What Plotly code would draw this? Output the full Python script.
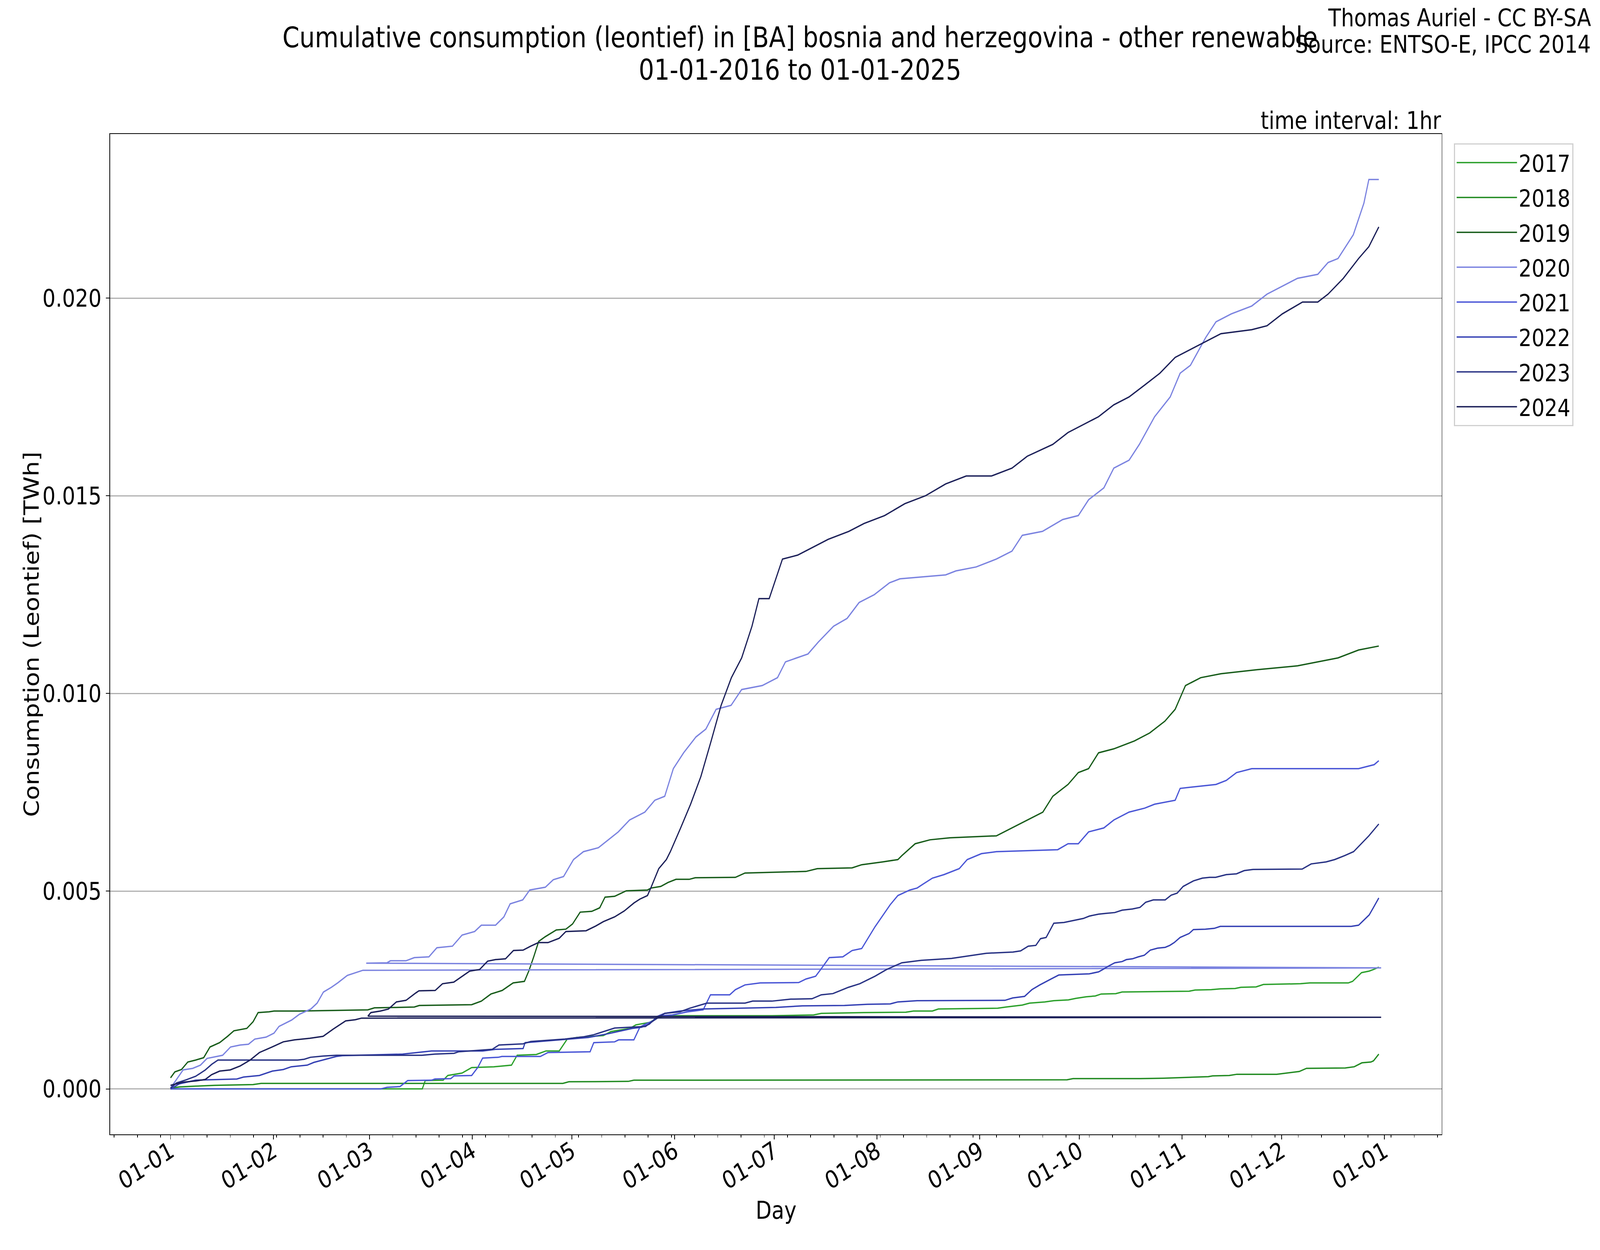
import pandas as pd
import plotly.graph_objects as go

# ---------------- data (day offset from 01-01, cumulative TWh) ----------------
years = ["2017", "2018", "2019", "2020", "2021", "2022", "2023", "2024"]
colors = ["#2ca02c", "#228b22", "#175c1a", "#7b83e0", "#4a56d6", "#3440b4", "#283284", "#1b1f58"]

s2017 = [(0, 0), (75.9, 0), (76.8, 0.00021), (82.2, 0.00022), (83.6, 0.00034), (87.9, 0.0004), (90.8, 0.00054),
         (97.5, 0.00056), (102.8, 0.0006), (104.5, 0.00085), (110.3, 0.00087), (113.2, 0.00096), (117.2, 0.00096),
         (119.6, 0.00126), (122.5, 0.0013), (130.5, 0.00135), (132.8, 0.00145), (138.5, 0.00153), (140.3, 0.00162),
         (144.4, 0.00168), (146.7, 0.00179), (149, 0.00185), (181.3, 0.00185), (193.9, 0.00187), (196.2, 0.00191),
         (209, 0.00193), (221.7, 0.00194), (224, 0.00197), (229.7, 0.00197), (231.5, 0.00202), (249.4, 0.00204),
         (251.9, 0.00207), (256.8, 0.00212), (259, 0.00217), (263.6, 0.0022), (266.3, 0.00223), (270.7, 0.00225),
         (273, 0.00229), (276.1, 0.00233), (278.8, 0.00235), (280.6, 0.0024), (285, 0.00241), (286.9, 0.00245),
         (303, 0.00246), (307.1, 0.00247), (308.9, 0.0025), (313.8, 0.00251), (316.5, 0.00253), (321, 0.00254),
         (322.7, 0.00257), (327.3, 0.00258), (329.5, 0.00264), (340.7, 0.00266), (343.5, 0.00268), (355.1, 0.00268),
         (356.4, 0.00272), (359.1, 0.00294), (361.4, 0.00298), (362.7, 0.00302), (364.3, 0.00308)]

s2018 = [(0, 0.00002), (2.7, 0.00005), (7.6, 0.00007), (13.3, 0.00009), (24.9, 0.00011), (27.3, 0.00014),
         (118.3, 0.00014), (120.1, 0.00018), (138, 0.00019), (139.7, 0.00022), (270.3, 0.00023), (272.1, 0.00026),
         (292.3, 0.00026), (299.4, 0.00027), (312.9, 0.00031), (314.2, 0.00033), (319.2, 0.00034), (321.5, 0.00037),
         (333.5, 0.00037), (336.2, 0.0004), (340.3, 0.00044), (342.5, 0.00052), (354.2, 0.00053), (356.9, 0.00056),
         (359.2, 0.00066), (361.9, 0.00068), (362.7, 0.00071), (364.3, 0.00088)]

s2019 = [(0, 0.00028), (1.3, 0.00043), (3.3, 0.00049), (5.2, 0.00068), (7.6, 0.00073), (10, 0.00079), (11.9, 0.00106),
         (14.8, 0.00117), (17.2, 0.00133), (19.1, 0.00147), (23, 0.00153), (24.9, 0.0017), (26.4, 0.00193),
         (29.7, 0.00195), (31.2, 0.00197), (38.8, 0.00197), (59.5, 0.002), (61.5, 0.00205), (73.5, 0.00207),
         (75, 0.00211), (90.8, 0.00213), (93.7, 0.00222), (96.6, 0.0024), (100, 0.00249), (103.3, 0.00268),
         (106.7, 0.00272), (108.1, 0.003), (109.5, 0.00334), (111, 0.00373), (113, 0.00385), (116.3, 0.00402),
         (119.2, 0.00404), (121.2, 0.00417), (123.5, 0.00447), (127, 0.00449), (129.4, 0.00458), (131, 0.00485),
         (133.9, 0.00487), (137.4, 0.00501), (143.8, 0.00503), (144.9, 0.00508), (147.8, 0.00512), (150, 0.00522),
         (152.4, 0.0053), (156.4, 0.0053), (158.2, 0.00534), (170.3, 0.00535), (173.2, 0.00546), (191.6, 0.0055),
         (195, 0.00557), (205.5, 0.00559), (208.4, 0.00567), (214.7, 0.00574), (219.3, 0.0058), (220.5, 0.0059),
         (224.5, 0.0062), (229, 0.0063), (235, 0.00635), (249, 0.0064), (253.7, 0.0066), (258.3, 0.0068),
         (263, 0.007), (266, 0.0074), (270.6, 0.0077), (273.7, 0.008), (276.8, 0.0081), (279.8, 0.0085),
         (284.4, 0.0086), (290.6, 0.0088), (295.2, 0.009), (299.8, 0.0093), (302.9, 0.0096), (306, 0.0102),
         (310.6, 0.0104), (316.7, 0.0105), (327.5, 0.0106), (339.8, 0.0107), (345.9, 0.0108), (352, 0.0109),
         (358.2, 0.0111), (364.3, 0.0112)]

s2020 = [(0, 0.00002), (1.8, 0.00024), (3.8, 0.00048), (6.7, 0.00052), (9, 0.0006), (11, 0.00077), (13.3, 0.00081),
         (15.7, 0.00085), (18.1, 0.00106), (21, 0.00111), (23.5, 0.00113), (25.4, 0.00126), (28.8, 0.00131),
         (31.2, 0.00141), (32.7, 0.00158), (36.5, 0.00174), (38.9, 0.00189), (42.3, 0.00202), (44.2, 0.00217),
         (46.1, 0.00245), (48.5, 0.00257), (50.4, 0.00268), (53.3, 0.00287), (55.7, 0.00294), (58, 0.003),
         (365, 0.00306), (59, 0.00318), (65.3, 0.00319), (66.3, 0.00324), (71, 0.00324), (73.5, 0.00332),
         (77.9, 0.00334), (80.3, 0.00357), (85, 0.00361), (87.9, 0.00389), (91.7, 0.00398), (93.7, 0.00414),
         (98, 0.00414), (100.5, 0.00435), (102.4, 0.00468), (106.2, 0.00478), (108.3, 0.00503), (113, 0.0051),
         (115.4, 0.00529), (118.5, 0.00537), (121.5, 0.0058), (124.5, 0.006), (129, 0.0061), (132, 0.0063),
         (135, 0.0065), (138.4, 0.0068), (143, 0.007), (146, 0.0073), (149, 0.0074), (151.6, 0.0081),
         (154.7, 0.0085), (158.4, 0.0089), (161.4, 0.0091), (164.5, 0.0096), (169, 0.0097), (172.2, 0.0101),
         (178.4, 0.0102), (183, 0.0104), (185.4, 0.0108), (192.2, 0.011), (195.3, 0.0113), (199.9, 0.0117),
         (204, 0.0119), (207.6, 0.0123), (212.2, 0.0125), (216.8, 0.0128), (219.9, 0.0129), (233.7, 0.013),
         (236.8, 0.0131), (242.9, 0.0132), (249, 0.0134), (253.7, 0.0136), (256.8, 0.014), (262.9, 0.0141),
         (269, 0.0144), (273.7, 0.0145), (276.8, 0.0149), (281.4, 0.0152), (284.4, 0.0157), (289, 0.0159),
         (292.1, 0.0163), (296.7, 0.017), (301.4, 0.0175), (304.4, 0.0181), (307.5, 0.0183), (312.1, 0.019),
         (315.2, 0.0194), (319.8, 0.0196), (326, 0.0198), (330.6, 0.0201), (335.2, 0.0203), (339.8, 0.0205),
         (345.9, 0.0206), (349, 0.0209), (352, 0.021), (356.6, 0.0216), (359.8, 0.0224), (361.3, 0.023),
         (364.3, 0.023)]

s2021 = [(0, 0), (63.4, 0), (65.3, 0.00004), (69.2, 0.00006), (71.5, 0.00021), (78.7, 0.00022), (79.7, 0.00025),
         (84.5, 0.00026), (85.5, 0.00033), (90.8, 0.00034), (92.7, 0.00055), (94.1, 0.00078), (98.9, 0.0008),
         (99.9, 0.00082), (111.5, 0.00082), (113.8, 0.00092), (126.5, 0.00094), (127.6, 0.00117), (133.9, 0.00119),
         (135.1, 0.00124), (139.7, 0.00124), (141.5, 0.00156), (143.2, 0.00164), (145.5, 0.00172), (147.8, 0.00185),
         (151.3, 0.00187), (155.9, 0.00195), (160.6, 0.002), (162.8, 0.00238), (168.6, 0.00238), (170.3, 0.00251),
         (173.2, 0.00263), (177.8, 0.00268), (189.4, 0.00269), (191.6, 0.00278), (194.5, 0.00285), (196.2, 0.00304),
         (198.6, 0.00332), (202.7, 0.00334), (205.5, 0.0035), (208.4, 0.00355), (212.4, 0.0041), (217, 0.00466),
         (219.3, 0.00489), (222.9, 0.00503), (225.1, 0.00508), (226.9, 0.00518), (229.7, 0.00533), (233.2, 0.00542),
         (237.8, 0.00557), (240.2, 0.0058), (244.5, 0.00595), (249, 0.006), (267.5, 0.00605), (270.6, 0.0062),
         (273.7, 0.0062), (276.8, 0.0065), (281.4, 0.0066), (284.4, 0.0068), (289, 0.007), (293.7, 0.0071),
         (296.7, 0.0072), (302.9, 0.0073), (304.4, 0.0076), (315.2, 0.0077), (318.3, 0.0078), (321.4, 0.008),
         (326, 0.0081), (358.2, 0.0081), (362.9, 0.0082), (364.3, 0.0083)]

s2022 = [(0, 0), (2.7, 0.00013), (7.6, 0.00022), (20, 0.00025), (22, 0.0003), (26.8, 0.00034), (30.7, 0.00045),
         (34, 0.00049), (36.4, 0.00056), (41.2, 0.0006), (43.2, 0.00067), (46, 0.00073), (50, 0.00082),
         (51.8, 0.00084), (70, 0.00088), (78.7, 0.00096), (94.1, 0.00096), (98, 0.001), (106.3, 0.00102),
         (106.9, 0.00117), (117.8, 0.00124), (125.9, 0.0013), (132.2, 0.0014), (139.2, 0.00153), (142, 0.00156),
         (144.4, 0.00164), (146.7, 0.00183), (149, 0.00191), (153.6, 0.00197), (160.5, 0.00202), (182.5, 0.00206),
         (190.5, 0.0021), (203.2, 0.00211), (210.1, 0.00214), (217, 0.00215), (219.3, 0.0022), (225.1, 0.00223),
         (251.6, 0.00224), (253.9, 0.0023), (257.5, 0.00234), (259.7, 0.00251), (262.1, 0.00263), (265.5, 0.00278),
         (267.8, 0.00288), (277, 0.00291), (279.8, 0.00296), (281.1, 0.00302), (282.9, 0.00311), (284.7, 0.00319),
         (286.9, 0.00322), (288.2, 0.00327), (290, 0.00329), (291.8, 0.00334), (293.6, 0.00338), (295.4, 0.00351),
         (297.6, 0.00356), (299.9, 0.00358), (301.3, 0.00363), (302.6, 0.0037), (304.4, 0.00383), (307.1, 0.00393),
         (308.4, 0.00403), (312, 0.00404), (314.7, 0.00406), (316.5, 0.00411), (356, 0.00411), (358.2, 0.00414),
         (360, 0.00429), (361.4, 0.0044), (362.7, 0.00459), (364.3, 0.00483)]

s2023 = [(0, 0.00002), (1.8, 0.00015), (4.7, 0.00023), (7.6, 0.00032), (10.5, 0.00048), (12.4, 0.00062),
         (14.3, 0.00073), (38.3, 0.00073), (40.3, 0.00075), (42.2, 0.0008), (46, 0.00083), (50, 0.00085),
         (75.8, 0.00085), (79.7, 0.00088), (85.5, 0.0009), (86.9, 0.00094), (97, 0.001), (99, 0.00111),
         (106.3, 0.00114), (108.6, 0.0012), (118.9, 0.00126), (124.7, 0.00132), (127.6, 0.00137), (130.5, 0.00145),
         (133.9, 0.00154), (143.2, 0.00158), (145.5, 0.00172), (149, 0.00191), (153.6, 0.00195), (156.5, 0.00204),
         (161.7, 0.00217), (173.2, 0.00217), (175.5, 0.00222), (181.3, 0.00222), (187, 0.00227), (193.4, 0.00228),
         (196.2, 0.00238), (199.7, 0.00241), (204.4, 0.00257), (207.8, 0.00266), (212.4, 0.00285), (215.9, 0.00302),
         (220.5, 0.00319), (226.3, 0.00325), (235.5, 0.0033), (245.9, 0.00343), (254, 0.00346), (256.3, 0.00349),
         (258.6, 0.00361), (260.9, 0.00363), (262.3, 0.0038), (264, 0.00383), (266.3, 0.00419), (269.4, 0.00421),
         (273, 0.00427), (275.2, 0.00431), (277, 0.00437), (279.8, 0.00442), (282, 0.00444), (284.7, 0.00446),
         (286.9, 0.00452), (290, 0.00455), (292.3, 0.00459), (294, 0.00472), (296.3, 0.00478), (299.9, 0.00478),
         (301.7, 0.0049), (303.5, 0.00495), (305.3, 0.00512), (308.4, 0.00526), (311.1, 0.00533), (313.3, 0.00535),
         (315.1, 0.00535), (318.3, 0.00542), (321.4, 0.00544), (323.7, 0.00552), (326.4, 0.00555), (341.2, 0.00556),
         (343.9, 0.00569), (346.6, 0.00572), (348.4, 0.00574), (351, 0.0058), (354, 0.0059), (356.7, 0.006),
         (359, 0.0062), (361.3, 0.0064), (364.3, 0.0067)]

s2024 = [(0, 0.00009), (3.7, 0.00017), (7.6, 0.0002), (10.5, 0.00024), (12.4, 0.00036), (14.8, 0.00045), (18, 0.00048),
         (21, 0.00058), (24, 0.00073), (26.8, 0.00092), (30.6, 0.00106), (34, 0.00119), (37.4, 0.00124),
         (42, 0.00128), (46, 0.00133), (49, 0.00151), (52.8, 0.00172), (55.7, 0.00175), (57.6, 0.00179),
         (365, 0.00181), (59.5, 0.00184), (60.4, 0.00193), (63.3, 0.00197), (65.7, 0.00202), (68.1, 0.0022),
         (71, 0.00224), (74, 0.00243), (74.9, 0.00248), (79.8, 0.00249), (82, 0.00266), (85.4, 0.0027),
         (87.3, 0.00281), (90.2, 0.00298), (93.2, 0.00302), (95.6, 0.00323), (98, 0.00327), (101, 0.00329),
         (103.4, 0.0035), (106.3, 0.00351), (108.6, 0.00361), (110.9, 0.0037), (113.8, 0.0037), (117.2, 0.00381),
         (119.2, 0.00398), (125.3, 0.004), (128.2, 0.00412), (130.5, 0.00423), (133.9, 0.00435), (136.8, 0.0045),
         (139.7, 0.0047), (141.5, 0.0048), (143.8, 0.00489), (144.9, 0.0051), (147.2, 0.00557), (149.5, 0.0058),
         (150.7, 0.006), (153.8, 0.0066), (156.8, 0.0072), (159.9, 0.0079), (163, 0.0088), (166, 0.0097),
         (169.1, 0.0104), (172.2, 0.0109), (175.3, 0.0117), (177.4, 0.0124), (180.5, 0.0124), (184.5, 0.0134),
         (189.1, 0.0135), (193.7, 0.0137), (198.3, 0.0139), (204.5, 0.0141), (209.1, 0.0143), (215.3, 0.0145),
         (221.4, 0.0148), (227.6, 0.015), (233.7, 0.0153), (239.9, 0.0155), (247.5, 0.0155), (253.7, 0.0157),
         (258.3, 0.016), (266, 0.0163), (270.6, 0.0166), (275.2, 0.0168), (279.8, 0.017), (284.4, 0.0173),
         (289, 0.0175), (293.7, 0.0178), (298.3, 0.0181), (302.9, 0.0185), (307.5, 0.0187), (312.1, 0.0189),
         (316.7, 0.0191), (326, 0.0192), (330.6, 0.0193), (335.2, 0.0196), (341.3, 0.0199), (345.9, 0.0199),
         (349, 0.0201), (353.6, 0.0205), (358.2, 0.021), (361.3, 0.0213), (364.3, 0.0218)]

series = [s2017, s2018, s2019, s2020, s2021, s2022, s2023, s2024]

y_ticks = [0.0, 0.005, 0.010, 0.015, 0.020]
title_line1 = "Cumulative consumption (leontief) in [BA] bosnia and herzegovina - other renewable"
title_line2 = "01-01-2016 to 01-01-2025"

# ---------------- figure ----------------
W, H = 4800, 3200
L, R, T, B = 330, 4325, 343, 2904
FONT = "DejaVu Sans"
base = pd.Timestamp("2016-01-01")


def px_x(X):
    return (X - L) / (R - L)


def px_y(Y):
    return (B - Y) / (B - T)


fig = go.Figure()
for yr, col, pts in zip(years, colors, series):
    days = [p[0] for p in pts]
    vals = [p[1] for p in pts]
    xs = [(base + pd.to_timedelta(d, unit="D")).strftime("%Y-%m-%d %H:%M:%S") for d in days]
    fig.add_trace(go.Scatter(x=xs, y=vals, mode="lines", name=yr, legendgroup=yr,
                             line=dict(color=col, width=3.5)))

fig.update_layout(
    width=W, height=H, autosize=False,
    margin=dict(l=L, r=W - R, t=T, b=H - B, autoexpand=False),
    paper_bgcolor="white", plot_bgcolor="white",
    font=dict(family=FONT, size=62, color="black"),
    showlegend=True,
    legend=dict(x=px_x(4362), y=px_y(367), xanchor="left", yanchor="top",
                bgcolor="white", bordercolor="#d0d0d0", borderwidth=3,
                font=dict(size=61), itemwidth=181, tracegroupgap=7),
    xaxis=dict(
        type="date",
        range=["2015-12-13 18:00:00", "2017-01-18 06:00:00"],
        tick0="2016-01-01", dtick="M1", tickformat="%d-%m",
        tickangle=-30, ticks="outside", ticklen=11, tickwidth=2, tickcolor="black",
        tickfont=dict(size=62), automargin=False, ticklabelstandoff=-30,
        showgrid=False, showline=True, linecolor="black", linewidth=2, mirror=True,
        zeroline=False,
        minor=dict(ticks="outside", ticklen=6, tickwidth=2, tickcolor="black",
                   tick0="2016-01-05", dtick=7 * 86400000, showgrid=False),
    ),
    yaxis=dict(
        range=[-0.00115, 0.02415],
        tickvals=y_ticks, ticktext=[f"{v:.3f}" for v in y_ticks],
        ticks="outside", ticklen=11, tickwidth=2, tickcolor="black",
        tickfont=dict(size=62), automargin=False,
        showgrid=True, gridcolor="#b0b0b0", gridwidth=3,
        showline=True, linecolor="black", linewidth=2, mirror=True,
        zeroline=False,
    ),
)


def note(text, x, y, xanchor, size, angle=0):
    fig.add_annotation(text=text, xref="paper", yref="paper", x=x, y=y,
                       xanchor=xanchor, yanchor="middle", showarrow=False, textangle=angle,
                       font=dict(family=FONT, size=size, color="black"))


note(title_line1, px_x(W / 2), px_y(95), "center", 73)
note(title_line2, px_x(W / 2), px_y(178), "center", 73)
note("Thomas Auriel - CC BY-SA", px_x(4775), px_y(45), "right", 62)
note("Source: ENTSO-E, IPCC 2014", px_x(4775), px_y(113), "right", 62)
note("time interval: 1hr", 1.0, px_y(309), "right", 62)
note("Day", 0.5, px_y(3098), "center", 62)
note("Consumption (Leontief) [TWh]", px_x(95), 0.5, "center", 62, angle=-90)

# map the fixed 4800x3200 figure onto the whole viewport, and clip the page to it,
# so the photographed page is exactly the chart
fit_js = """
var gd = document.getElementById('{plot_id}');
var wrap = gd.parentElement;
document.documentElement.style.margin = '0';
document.documentElement.style.padding = '0';
document.body.style.margin = '0';
document.body.style.padding = '0';
document.documentElement.style.overflow = 'hidden';
document.body.style.overflow = 'hidden';
function fitFig() {
  var vw = window.innerWidth, vh = window.innerHeight;
  var kx = vw / 4800, ky = vh / 3200;
  gd.style.transformOrigin = '0 0';
  gd.style.transform = 'scale(' + kx + ',' + ky + ')';
  wrap.style.width = vw + 'px';
  wrap.style.height = vh + 'px';
  wrap.style.overflow = 'hidden';
}
fitFig();
window.addEventListener('resize', fitFig);
"""

fig.write_html("out.html", post_script=fit_js, config={"displayModeBar": False})
